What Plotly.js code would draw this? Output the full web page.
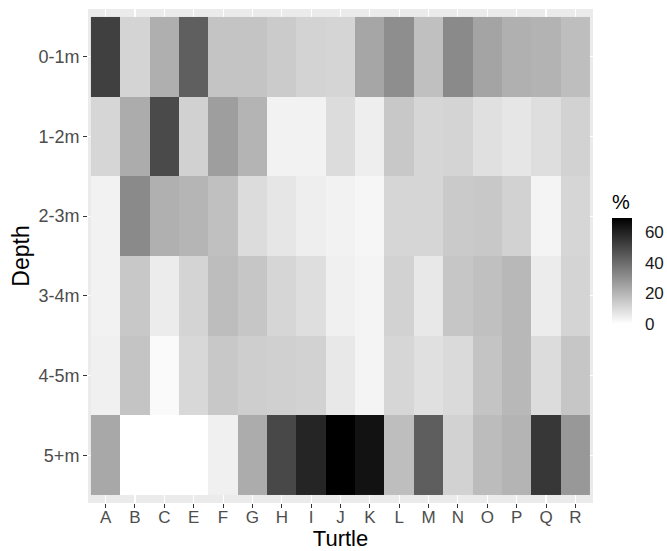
<!DOCTYPE html>
<html>
<head>
<meta charset="utf-8">
<script src="https://cdn.plot.ly/plotly-3.0.1.min.js"></script>
<style>html,body{margin:0;padding:0;background:#fff;}#chart{width:667px;height:551px;}</style>
</head>
<body>
<div id="chart"></div>
<script>
// Categories
var turtles = ["A","B","C","E","F","G","H","I","J","K","L","M","N","O","P","Q","R"];
var depths = ["0-1m","1-2m","2-3m","3-4m","4-5m","5+m"];

// Percent of time at each depth (one array per depth band, in turtle order)
var depth0to1 = [52.0, 11.7, 21.8, 43.6, 16.1, 16.1, 14.2, 12.0, 11.4, 24.3, 30.8, 17.2, 31.9, 24.8, 21.5, 20.7, 17.7];
var depth1to2 = [11.2, 22.6, 49.3, 12.5, 26.4, 20.4, 3.5, 3.5, 9.5, 4.6, 15.0, 11.2, 11.7, 8.4, 6.8, 9.0, 12.3];
var depth2to3 = [3.5, 31.9, 21.5, 20.2, 17.2, 9.5, 6.8, 4.6, 3.5, 2.5, 11.2, 11.2, 14.4, 15.0, 12.3, 3.0, 11.2];
var depth3to4 = [3.5, 15.0, 5.2, 11.7, 18.0, 15.5, 11.2, 9.0, 4.1, 3.0, 12.3, 6.3, 15.5, 17.2, 19.3, 5.2, 11.7];
var depth4to5 = [4.1, 16.1, 1.4, 10.6, 15.0, 13.4, 12.8, 12.3, 6.3, 3.0, 11.2, 8.4, 10.1, 16.1, 19.3, 9.5, 15.5];
var depth5plus = [23.7, 0.0, 0.0, 0.0, 4.1, 22.6, 49.9, 59.4, 69.5, 64.6, 17.7, 43.9, 12.3, 18.3, 20.4, 54.5, 28.1];

var colorTicks = [0, 20, 40, 60];

var z = [depth0to1, depth1to2, depth2to3, depth3to4, depth4to5, depth5plus];
var zmax = Math.max.apply(null, z.map(function (r) { return Math.max.apply(null, r); }));
var zmin = Math.min.apply(null, z.map(function (r) { return Math.min.apply(null, r); }));

var FONT = "Liberation Sans, Arial, sans-serif";

var trace = {
  type: "heatmap",
  x: turtles,
  y: depths,
  z: z,
  zmin: zmin,
  zmax: zmax,
  colorscale: [[0, "#FFFFFF"], [1, "#000000"]],
  hoverongaps: false,
  colorbar: {
    title: { text: "%", side: "top", font: { family: FONT, size: 20, color: "#000000" } },
    thickness: 20,
    thicknessmode: "pixels",
    len: 133,
    lenmode: "pixels",
    x: 1.0376,
    xanchor: "left",
    xref: "paper",
    y: 0.497,
    yanchor: "middle",
    yref: "paper",
    outlinewidth: 0,
    tickmode: "array",
    tickvals: colorTicks,
    ticktext: colorTicks.map(String),
    ticks: "outside",
    ticklen: 10,
    tickcolor: "rgba(0,0,0,0)",
    tickwidth: 1,
    tickfont: { family: FONT, size: 17, color: "#1A1A1A" },
    xpad: 0,
    ypad: 0
  }
};

var layout = {
  width: 667,
  height: 551,
  margin: { l: 88, r: 74, t: 9, b: 48, pad: 0, autoexpand: false },
  paper_bgcolor: "#FFFFFF",
  plot_bgcolor: "#EBEBEB",
  font: { family: FONT, color: "#4D4D4D" },
  xaxis: {
    type: "category",
    categoryorder: "array",
    categoryarray: turtles,
    range: [-0.6, 16.6],
    showgrid: true,
    gridcolor: "#FFFFFF",
    gridwidth: 1.1,
    zeroline: false,
    showline: false,
    ticks: "outside",
    ticklen: 4,
    tickwidth: 1,
    tickcolor: "#333333",
    ticklabelstandoff: -5,
    tickfont: { family: FONT, size: 17, color: "#4D4D4D" },
    title: { text: "Turtle", font: { family: FONT, size: 22, color: "#000000" }, standoff: 9 },
    automargin: false,
    fixedrange: true
  },
  yaxis: {
    type: "category",
    categoryorder: "array",
    categoryarray: depths,
    range: [5.6, -0.6],
    showgrid: true,
    gridcolor: "#FFFFFF",
    gridwidth: 1.1,
    zeroline: false,
    showline: false,
    ticks: "outside",
    ticklen: 4,
    tickwidth: 1,
    tickcolor: "#333333",
    tickfont: { family: FONT, size: 18, color: "#4D4D4D" },
    title: { text: "Depth", font: { family: FONT, size: 23, color: "#000000" }, standoff: 2 },
    automargin: false,
    fixedrange: true
  }
};

Plotly.newPlot("chart", [trace], layout, { displayModeBar: false, staticPlot: true });
</script>
</body>
</html>
